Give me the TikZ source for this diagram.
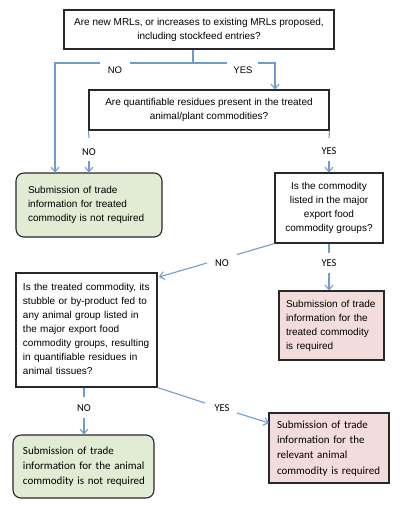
\documentclass[tikz,border=0pt]{standalone}
\usepackage{fontspec}
\setmainfont{Liberation Sans}
\newfontfamily\calib{Carlito}
\usetikzlibrary{arrows.meta}
\definecolor{arrowblue}{RGB}{108,156,208}
\definecolor{greenfill}{RGB}{226,235,212}
\definecolor{pinkfill}{RGB}{242,221,220}
\definecolor{boxline}{RGB}{40,40,40}
\newcommand\linesL[1]{\begin{tabular}{@{}l@{}}#1\end{tabular}}
\tikzset{
  box/.style={draw=boxline, line width=1.1pt, inner ysep=0pt, font=\fontsize{10}{14}\selectfont},
  qbox/.style={box, fill=white, align=center},
  lbox/.style={box, align=left},
  greenbox/.style={lbox, fill=greenfill, rounded corners=8pt},
  pinkbox/.style={lbox, fill=pinkfill},
  conn/.style={draw=arrowblue, line width=1.1pt},
  arr/.style={conn, -{Straight Barb[length=4.5pt,width=8pt]}},
  lab/.style={inner sep=0pt, font=\fontsize{9.5}{11}\selectfont},
  labc/.style={inner sep=0pt, font=\calib\fontsize{10.5}{12}\selectfont},
}
\begin{document}
\begin{tikzpicture}[x=1pt,y=-1pt]
\useasboundingbox (0,0) rectangle (414,507);
% boxes
\node[qbox, minimum width=270pt, minimum height=39pt] (q1) at (199,29.5)
  {Are new MRLs, or increases to existing MRLs proposed,\\including stockfeed entries?};
\node[qbox, minimum width=240pt, minimum height=40pt] (q2) at (209,110)
  {Are quantifiable residues present in the treated\\animal/plant commodities?};
\node[greenbox, text width=122pt, inner xsep=12pt, minimum height=64pt] (g1) at (89,205)
  {\linesL{Submission of trade\\information for treated\\commodity is not required}};
\node[qbox, minimum width=108pt, minimum height=70pt] (q3) at (329,208)
  {Is the commodity\\listed in the major\\export food\\commodity groups?};
\node[pinkbox, text width=91pt, inner xsep=7pt, minimum height=69pt] (p1) at (331.5,325.5)
  {\linesL{Submission of trade\\information for the\\treated commodity\\is required}};
\node[lbox, fill=white, text width=127pt, inner xsep=7pt, minimum height=114pt] (q4) at (86.5,330)
  {\linesL{Is the treated commodity, its\\stubble or by-product fed to\\any animal group listed in\\the major export food\\commodity groups, resulting\\in quantifiable residues in\\animal tissues?}};
\node[greenbox, font=\calib\fontsize{11}{15}\selectfont, text width=121pt, inner xsep=10pt, minimum height=63pt] (g2) at (83.5,466.5)
  {\linesL{Submission of trade\\information for the animal\\commodity is not required}};
\node[pinkbox, font=\calib\fontsize{11}{15.3}\selectfont, text width=104pt, inner xsep=8pt, minimum height=70pt] (p2) at (329,448)
  {\linesL{Submission of trade\\information for the\\relevant animal\\commodity is required}};
% labels
\node[lab] (no1) at (115,70) {NO};
\node[lab] (yes1) at (243,70) {YES};
\node[labc] (no2) at (89,152) {NO};
\node[labc] (yes2) at (329,151) {YES};
\node[labc] (no3) at (222,263) {NO};
\node[labc] (yes3) at (329,263) {YES};
\node[labc] (no4) at (84,408) {NO};
\node[labc] (yes4) at (222,408) {YES};
% coordinates
\coordinate (j1) at (193,63);
\coordinate (n1a) at (130,63);
\coordinate (n1b) at (100,63);
\coordinate (c1l) at (55,63);
\coordinate (y1a) at (227,63);
\coordinate (y1b) at (258,63);
\coordinate (c1r) at (275,63);
% row 1
\draw[conn] (j1 |- q1.south) -- (j1) -- (n1a);
\draw[arr] (n1b) -- (c1l) -- (c1l |- g1.north);
\draw[conn] (j1) -- (y1a);
\draw[arr] (y1b) -- (c1r) -- (c1r |- q2.north);
% row 2
\coordinate (n2a) at (89,138);
\coordinate (n2b) at (89,161);
\draw[conn] (q2.south west) -- (n2a);
\draw[arr] (n2b) -- (n2b |- g1.north);
\coordinate (y2a) at (329,138);
\coordinate (y2b) at (329,161);
\draw[conn] (q2.south east) -- (y2a);
\draw[arr] (y2b) -- (y2b |- q3.north);
% row 3
\coordinate (n3a) at (237,254.5);
\coordinate (n3b) at (207,263);
\coordinate (n3t) at (159,277);
\draw[conn] (q3.south west) -- (n3a);
\draw[arr] (n3b) -- (n3t);
\coordinate (y3a) at (329,253);
\coordinate (y3b) at (329,273);
\draw[conn] (q3.south) -- (y3a);
\draw[arr] (y3b) -- (y3b |- p1.north);
% row 4
\coordinate (n4s) at (84,387);
\coordinate (n4a) at (84,397);
\coordinate (n4b) at (84,418);
\draw[conn] (n4s |- q4.south) -- (n4a);
\draw[arr] (n4b) -- (n4b |- g2.north);
\coordinate (y4a) at (205,403);
\coordinate (y4b) at (237,413);
\coordinate (y4t) at (269,423);
\draw[conn] (q4.south east) -- (y4a);
\draw[arr] (y4b) -- (y4t);
\end{tikzpicture}
\end{document}
